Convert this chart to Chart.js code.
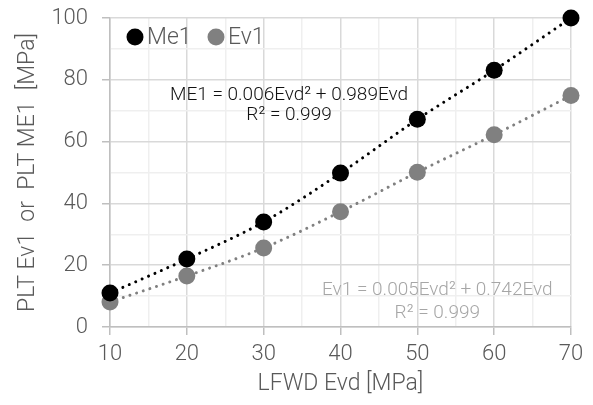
<!DOCTYPE html>
<html lang="en">
<head>
    <title>PLT vs LFWD</title>
    <script src="https://cdn.jsdelivr.net/npm/chart.js"></script>
    <style>
        html, body {
            margin: 0;
            padding: 0;
            background-color: white;
        }

        #wrap {
            width: 593px;
            height: 405px;
        }
    </style>
</head>
<body>

    <div id="wrap">
        <canvas id="chart" width="593" height="405"></canvas>
    </div>

    <script>
        // data
        const evd = [10, 20, 30, 40, 50, 60, 70];
        const me1 = [11, 22, 34, 49.8, 67.2, 83.1, 100];
        const ev1 = [8.1, 16.5, 25.6, 37.3, 50.1, 62.2, 74.9];

        const seriesNames = ['Me1', 'Ev1'];
        const me1Equation = ['ME1 = 0.006Evd\u00B2 + 0.989Evd', 'R\u00B2 = 0.999'];
        const ev1Equation = ['Ev1 = 0.005Evd\u00B2 + 0.742Evd', 'R\u00B2 = 0.999'];

        const FONT = "Roboto, 'Liberation Sans', sans-serif";
        const TEXT = '#595959';

        function toPoints(ys) {
            return evd.map((x, i) => ({ x: x, y: ys[i] }));
        }

        function trendSet(ys, color) {
            return {
                data: toPoints(ys),
                showLine: true,
                pointRadius: 0,
                borderColor: color,
                borderWidth: 3,
                borderDash: [0.01, 7],
                borderCapStyle: 'round',
                cubicInterpolationMode: 'monotone',
                clip: false,
                order: 2
            };
        }

        function pointSet(label, ys, color) {
            return {
                label: label,
                data: toPoints(ys),
                showLine: false,
                pointRadius: 8.5,
                pointHoverRadius: 8.5,
                backgroundColor: color,
                borderColor: color,
                borderWidth: 0,
                clip: false,
                order: 1
            };
        }

        // legend and equations drawn on top of the plot
        const overlay = {
            id: 'overlay',
            afterDraw(chart) {
                const ctx = chart.ctx;
                const xs = chart.scales.x, ys = chart.scales.y;
                ctx.save();

                // legend inside the plot, top left
                const colors = ['#000000', '#808080'];
                const lx = [135, 216];
                ctx.font = '300 23px ' + FONT;
                ctx.textBaseline = 'middle';
                ctx.textAlign = 'left';
                seriesNames.forEach((name, i) => {
                    ctx.fillStyle = colors[i];
                    ctx.beginPath();
                    ctx.arc(lx[i], 37, 8.5, 0, Math.PI * 2);
                    ctx.fill();
                    ctx.fillStyle = TEXT;
                    ctx.fillText(name, lx[i] + 12, 38);
                });

                // trendline equations
                ctx.font = '300 19px ' + FONT;
                ctx.textAlign = 'center';
                ctx.fillStyle = '#111111';
                ctx.fillText(me1Equation[0], xs.getPixelForValue(33.3), ys.getPixelForValue(75));
                ctx.fillText(me1Equation[1], xs.getPixelForValue(33.3), ys.getPixelForValue(68.5));
                ctx.fillStyle = '#a6a6a6';
                ctx.fillText(ev1Equation[0], xs.getPixelForValue(52.6), ys.getPixelForValue(12));
                ctx.fillText(ev1Equation[1], xs.getPixelForValue(52.6), ys.getPixelForValue(4.6));

                ctx.restore();
            }
        };

        function gridColor(step) {
            return (c) => (c.tick && c.tick.value % step === 0) ? '#d9d9d9' : '#efefef';
        }

        function tickColor(step) {
            return (c) => (c.tick && c.tick.value % step === 0) ? '#bfbfbf' : 'rgba(0,0,0,0)';
        }

        new Chart(document.getElementById('chart').getContext('2d'), {
            type: 'scatter',
            data: {
                datasets: [
                    pointSet(seriesNames[0], me1, '#000000'),
                    pointSet(seriesNames[1], ev1, '#808080'),
                    trendSet(me1, '#000000'),
                    trendSet(ev1, '#808080')
                ]
            },
            options: {
                responsive: false,
                animation: false,
                layout: { padding: { left: 0, top: 18, right: 22, bottom: 0 } },
                plugins: {
                    legend: { display: false },
                    tooltip: { enabled: false }
                },
                scales: {
                    x: {
                        type: 'linear',
                        min: 10,
                        max: 70,
                        afterFit: (s) => { s.height = 78; s.paddingLeft = 0; s.paddingRight = 0; },
                        ticks: {
                            stepSize: 5,
                            color: TEXT,
                            padding: 6,
                            maxRotation: 0,
                            font: { family: FONT, size: 22, weight: 300 },
                            callback: (v) => v % 10 === 0 ? v : ''
                        },
                        grid: {
                            color: gridColor(10),
                            tickColor: tickColor(10),
                            lineWidth: 1.5,
                            tickLength: 8
                        },
                        border: { color: '#bfbfbf', width: 1.5 },
                        title: {
                            display: true,
                            text: 'LFWD Evd [MPa]',
                            color: TEXT,
                            font: { family: FONT, size: 23, weight: 300 },
                            padding: { top: 0, bottom: 7 }
                        }
                    },
                    y: {
                        min: 0,
                        max: 100,
                        afterFit: (s) => { s.width = 110; s.paddingTop = 0; s.paddingBottom = 0; },
                        ticks: {
                            stepSize: 10,
                            color: TEXT,
                            padding: 14,
                            font: { family: FONT, size: 22, weight: 300 },
                            callback: (v) => v % 20 === 0 ? v : ''
                        },
                        grid: {
                            color: gridColor(20),
                            tickColor: tickColor(20),
                            lineWidth: 1.5,
                            tickLength: 8
                        },
                        border: { color: '#bfbfbf', width: 1.5 },
                        title: {
                            display: true,
                            text: 'PLT Ev1  or  PLT ME1  [MPa]',
                            color: TEXT,
                            font: { family: FONT, size: 23, weight: 300 },
                            padding: { top: 14, bottom: 0 }
                        }
                    }
                }
            },
            plugins: [overlay]
        });
    </script>

</body>
</html>
